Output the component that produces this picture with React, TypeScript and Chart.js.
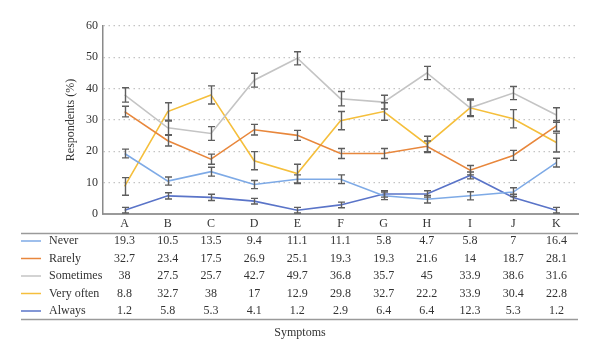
import React, { useEffect, useRef } from "react";
import { Chart, registerables } from "chart.js";

Chart.register(...registerables);

const categories = ["A", "B", "C", "D", "E", "F", "G", "H", "I", "J", "K"];
const seriesNames = ["Never", "Rarely", "Sometimes", "Very often", "Always"];

const never = [19.3, 10.5, 13.5, 9.4, 11.1, 11.1, 5.8, 4.7, 5.8, 7, 16.4];
const rarely = [32.7, 23.4, 17.5, 26.9, 25.1, 19.3, 19.3, 21.6, 14, 18.7, 28.1];
const sometimes = [38, 27.5, 25.7, 42.7, 49.7, 36.8, 35.7, 45, 33.9, 38.6, 31.6];
const veryOften = [8.8, 32.7, 38, 17, 12.9, 29.8, 32.7, 22.2, 33.9, 30.4, 22.8];
const always = [1.2, 5.8, 5.3, 4.1, 1.2, 2.9, 6.4, 6.4, 12.3, 5.3, 1.2];

const neverErr = [1.4, 1.3, 1.4, 1.3, 1.4, 1.4, 1.2, 1.2, 1.3, 1.4, 1.4];
const rarelyErr = [1.7, 1.7, 1.6, 1.7, 1.6, 1.6, 1.6, 1.7, 1.5, 1.6, 1.7];
const sometimesErr = [2.3, 2.2, 2.2, 2.2, 2.1, 2.3, 2.2, 2.1, 2.5, 2.1, 2.3];
const veryOftenErr = [2.8, 2.8, 2.9, 2.9, 3.0, 2.9, 2.8, 2.6, 2.8, 2.9, 3.0];
const alwaysErr = [0.9, 1.0, 1.0, 0.9, 0.9, 0.9, 1.0, 1.0, 1.1, 1.0, 0.9];

const yTicks = [0, 10, 20, 30, 40, 50, 60];

const seriesValues = [never, rarely, sometimes, veryOften, always];
const seriesErrors = [neverErr, rarelyErr, sometimesErr, veryOftenErr, alwaysErr];
const seriesColors = ["#7eaae6", "#e8873c", "#c4c4c4", "#f5bf3c", "#5a74c8"];

const FONT = "'Liberation Serif', 'Times New Roman', serif";

const errorBarPlugin = {
  id: "errorBars",
  afterDatasetsDraw(chart: any) {
    const ctx = chart.ctx;
    const y = chart.scales.y;
    ctx.save();
    ctx.strokeStyle = "#5e5e5e";
    ctx.lineWidth = 1.4;
    chart.data.datasets.forEach((ds: any, di: number) => {
      const meta = chart.getDatasetMeta(di);
      const errs = seriesErrors[di];
      meta.data.forEach((pt: any, i: number) => {
        const v = ds.data[i];
        const e = errs[i];
        const px = Math.round(pt.x) + 0.5;
        const y1 = y.getPixelForValue(v + e);
        const y2 = y.getPixelForValue(Math.max(0, v - e));
        ctx.beginPath();
        ctx.moveTo(px, y1);
        ctx.lineTo(px, y2);
        ctx.moveTo(px - 3.5, y1);
        ctx.lineTo(px + 3.5, y1);
        ctx.moveTo(px - 3.5, y2);
        ctx.lineTo(px + 3.5, y2);
        ctx.stroke();
      });
    });
    ctx.restore();
  },
};

const tablePlugin = {
  id: "dataTable",
  afterDraw(chart: any) {
    const ctx = chart.ctx;
    const x = chart.scales.x;
    const left = 21;
    const right = chart.chartArea.right;
    const topLine = 233.5;
    const rowStart = 241;
    const rowStep = 17.5;
    const bottomLine = 319.5;
    ctx.save();
    ctx.strokeStyle = "#9a9a9a";
    ctx.lineWidth = 1.5;
    ctx.beginPath();
    ctx.moveTo(left, topLine);
    ctx.lineTo(right, topLine);
    ctx.moveTo(left, bottomLine);
    ctx.lineTo(right, bottomLine);
    ctx.stroke();

    ctx.font = "12px " + FONT;
    ctx.fillStyle = "#333333";
    ctx.textBaseline = "middle";
    seriesNames.forEach((name, si) => {
      const yc = rowStart + si * rowStep;
      ctx.strokeStyle = seriesColors[si];
      ctx.lineWidth = 1.5;
      ctx.beginPath();
      ctx.moveTo(left, yc);
      ctx.lineTo(left + 20, yc);
      ctx.stroke();
      ctx.textAlign = "left";
      ctx.fillStyle = "#333333";
      ctx.fillText(name, 49, yc);
      ctx.textAlign = "center";
      seriesValues[si].forEach((v, ci) => {
        ctx.fillText(String(v), x.getPixelForValue(ci), yc);
      });
    });
    ctx.textAlign = "center";
    ctx.fillText("Symptoms", 300, 333);
    ctx.restore();
  },
};

export default function App() {
  const ref = useRef<HTMLCanvasElement | null>(null);
  useEffect(() => {
    if (!ref.current) return;
    const chart = new Chart(ref.current, {
      type: "line",
      data: {
        labels: categories,
        datasets: seriesNames.map((name, i) => ({
          label: name,
          data: seriesValues[i],
          borderColor: seriesColors[i],
          backgroundColor: seriesColors[i],
          borderWidth: 1.6,
          pointRadius: 0,
          tension: 0,
          fill: false,
        })),
      },
      options: {
        responsive: false,
        animation: false,
        layout: { padding: { left: 64, right: 22, top: 26, bottom: 0 } },
        plugins: {
          legend: { display: false },
          tooltip: { enabled: false },
          title: { display: false },
        },
        scales: {
          x: {
            offset: true,
            grid: { display: false, drawTicks: false },
            border: { display: true, color: "#9a9a9a", width: 2 },
            ticks: {
              padding: 3,
              font: { family: FONT, size: 12 },
              color: "#333333",
            },
            afterFit: (s: any) => {
              s.height = 147;
            },
          },
          y: {
            min: 0,
            max: 60,
            afterBuildTicks: (s: any) => {
              s.ticks = yTicks.map((v) => ({ value: v }));
            },
            grid: {
              color: (c: any) => (c.tick && c.tick.value === 0 ? "rgba(0,0,0,0)" : "#c4c4c4"),
              lineWidth: 1.2,
              drawTicks: false,
            },
            border: { display: true, color: "#8a8a8a", width: 1.5, dash: [1.5, 3.5] },
            ticks: {
              padding: 5,
              font: { family: FONT, size: 12 },
              color: "#333333",
            },
            title: {
              display: true,
              text: "Respondents (%)",
              font: { family: FONT, size: 12 },
              color: "#333333",
              padding: 0,
            },
            afterFit: (s: any) => {
              s.width = 39;
            },
          },
        },
      },
      plugins: [errorBarPlugin, tablePlugin],
    } as any);
    return () => chart.destroy();
  }, []);
  return (
    <div style={{ position: "absolute", left: 0, top: 0, width: 600, height: 361, background: "#fff" }}>
      <canvas ref={ref} width={600} height={361} />
    </div>
  );
}
